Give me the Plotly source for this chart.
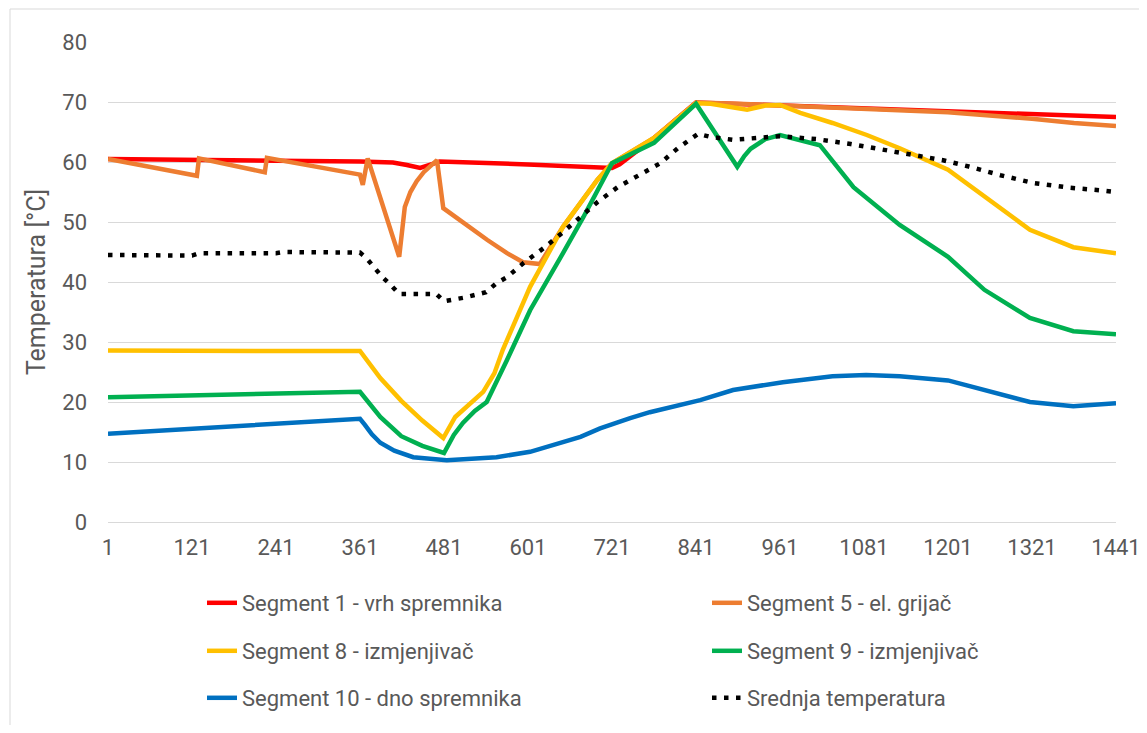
import plotly.graph_objects as go

# ---------------- data ----------------
x_ticks = [1, 121, 241, 361, 481, 601, 721, 841, 961, 1081, 1201, 1321, 1441]
y_ticks = [0, 10, 20, 30, 40, 50, 60, 70, 80]

seg1_t = [1, 121, 241, 361, 408, 428, 447, 465, 475, 601, 721, 732, 781, 841, 961, 1081, 1201, 1321, 1441]
seg1_v = [60.5, 60.3, 60.2, 60.1, 59.9, 59.5, 59.0, 59.7, 60.1, 59.6, 59.0, 59.6, 64.0, 69.9, 69.4, 69.0, 68.5, 68.0, 67.5]

seg5_t = [1, 128, 131, 225, 228, 361, 365, 372, 417, 421, 425, 433, 442, 452, 461, 471, 480, 509, 543, 571,
          594, 618, 651, 700, 721, 781, 841, 901, 961, 1081, 1201, 1321, 1381, 1441]
seg5_v = [60.5, 57.7, 60.6, 58.3, 60.7, 57.9, 56.2, 60.6, 44.2, 49.0, 52.5, 55.0, 56.8, 58.3, 59.3, 60.3, 52.3, 49.8, 47.0, 44.8,
          43.3, 43.0, 49.2, 57.0, 59.8, 64.0, 69.9, 69.7, 69.4, 68.9, 68.3, 67.2, 66.5, 66.0]

seg8_t = [1, 121, 241, 361, 390, 420, 450, 480, 497, 537, 553, 565, 604, 651, 700, 721, 781, 841, 862, 914,
          940, 961, 990, 1036, 1085, 1132, 1201, 1318, 1380, 1441]
seg8_v = [28.6, 28.5, 28.5, 28.5, 24.0, 20.2, 16.9, 14.0, 17.5, 21.7, 24.8, 28.7, 39.2, 49.2, 57.0, 59.8, 64.0, 69.8, 69.7, 68.7,
          69.4, 69.5, 68.2, 66.5, 64.5, 62.3, 58.7, 48.7, 45.8, 44.8]

seg9_t = [1, 361, 390, 420, 450, 481, 495, 508, 525, 542, 571, 604, 651, 680, 721, 781, 841, 900, 910, 919,
          940, 961, 1018, 1066, 1132, 1201, 1253, 1318, 1380, 1441]
seg9_v = [20.8, 21.7, 17.5, 14.3, 12.7, 11.5, 14.5, 16.5, 18.5, 20.0, 27.0, 35.3, 44.8, 50.8, 59.8, 63.2, 69.7, 59.2, 61.0, 62.2,
          63.8, 64.5, 62.8, 55.8, 49.5, 44.2, 38.7, 34.0, 31.8, 31.3]

seg10_t = [1, 361, 368, 378, 390, 410, 437, 485, 556, 604, 676, 704, 747, 775, 847, 894, 965, 1036, 1084, 1132, 1201,
           1318, 1380, 1441]
seg10_v = [14.7, 17.2, 16.2, 14.6, 13.2, 11.9, 10.8, 10.3, 10.8, 11.7, 14.2, 15.6, 17.3, 18.3, 20.3, 22.0, 23.3, 24.3, 24.5, 24.3, 23.6,
           20.0, 19.3, 19.8]

mean_t = [1, 121, 131, 241, 251, 361, 370, 393, 405, 417, 470, 481, 510, 541, 556, 571, 595, 624, 650, 676,
          700, 729, 761, 790, 815, 844, 861, 894, 961, 1014, 1062, 1109, 1162, 1194, 1229, 1276, 1323, 1376, 1426, 1441]
mean_v = [44.5, 44.4, 44.8, 44.8, 45.0, 44.9, 44.0, 40.8, 39.5, 38.0, 38.0, 36.8, 37.4, 38.3, 39.8, 40.8, 43.2, 45.7, 48.2, 50.8,
          53.3, 55.8, 57.8, 59.8, 62.3, 64.7, 64.2, 63.7, 64.3, 63.8, 63.0, 62.0, 60.8, 60.3, 59.3, 57.8, 56.5, 55.7, 55.2, 55.0]

names = ["Segment 1 - vrh spremnika", "Segment 5 - el. grijač", "Segment 8 - izmjenjivač",
         "Segment 9 - izmjenjivač", "Segment 10 - dno spremnika", "Srednja temperatura"]

# ---------------- figure ----------------
FONT = "Roboto, 'Open Sans', sans-serif"
GREY = "#595959"
OFF = 8                      # default body margin of the html page
W, H = 1147 - OFF, 733 - 2 * OFF

series = [
    (seg1_t, seg1_v, names[0], "#FF0000", "solid", "legend", 460),
    (seg5_t, seg5_v, names[1], "#ED7D31", "solid", "legend", 260),
    (seg8_t, seg8_v, names[2], "#FFC000", "solid", "legend2", 460),
    (seg9_t, seg9_v, names[3], "#00B050", "solid", "legend2", 260),
    (seg10_t, seg10_v, names[4], "#0070C0", "solid", "legend3", 460),
    (mean_t, mean_v, names[5], "#000000", "4.5px,7.5px", "legend3", 260),
]

fig = go.Figure()
for t, v, nm, col, dash, lg, lw in series:
    fig.add_trace(go.Scatter(
        x=t, y=v, name=nm, mode="lines",
        line=dict(color=col, width=4.5, dash=dash),
        legend=lg, legendwidth=lw,
    ))

leg_common = dict(orientation="h", xref="container", yref="container",
                  xanchor="left", yanchor="middle", x=(202 - OFF) / W,
                  font=dict(family=FONT, size=22, color=GREY),
                  bgcolor="rgba(0,0,0,0)", itemwidth=30)

fig.update_layout(
    width=W, height=H,
    margin=dict(l=108 - OFF, r=OFF + W - 1116, t=42 - OFF, b=H - (42 - OFF) - 480),
    paper_bgcolor="white", plot_bgcolor="white",
    font=dict(family=FONT, size=22, color=GREY),
    showlegend=True,
    legend=dict(leg_common, y=1 - (603 - OFF) / H),
    legend2=dict(leg_common, y=1 - (651 - OFF) / H),
    legend3=dict(leg_common, y=1 - (698 - OFF) / H),
    xaxis=dict(
        range=[1, 1441], tickvals=x_ticks, ticktext=[str(v) for v in x_ticks],
        showgrid=False, zeroline=False, showline=True, linecolor="#D9D9D9", linewidth=1,
        ticks="", tickfont=dict(family=FONT, size=22, color=GREY), ticklabelstandoff=6,
        ticklabeloverflow="allow", automargin=False,
    ),
    yaxis=dict(
        range=[0, 80], tickvals=y_ticks, showgrid=True, gridcolor="#D9D9D9", gridwidth=1,
        zeroline=False, showline=False, ticks="", automargin=False,
        tickfont=dict(family=FONT, size=22, color=GREY), ticklabelstandoff=20,
        title=dict(text="Temperatura [°C]", font=dict(family=FONT, size=25, color=GREY), standoff=9),
    ),
    shapes=[dict(type="rect", xref="paper", yref="paper",
                 x0=(10 - 108) / 1008, x1=1.2, y0=-0.6, y1=(522 - 9) / 480,
                 line=dict(color="#D9D9D9", width=1), fillcolor="rgba(0,0,0,0)", layer="below")],
)

fig.write_html("out.html")
